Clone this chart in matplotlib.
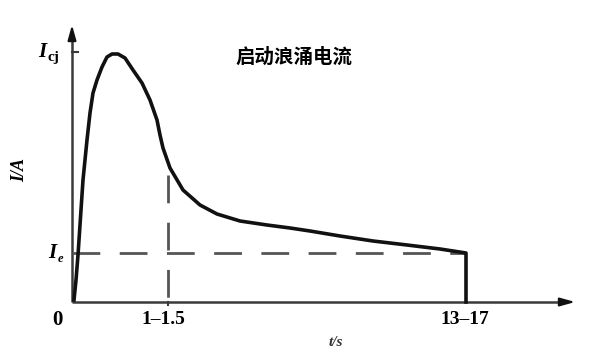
import numpy as np
import matplotlib
matplotlib.use("Agg")
import matplotlib.pyplot as plt

# 启动浪涌电流曲线 (坐标单位为示意值)
t_curve = [0.02, 0.04, 0.06, 0.08, 0.11, 0.15, 0.18, 0.21, 0.25, 0.30, 0.35,
           0.40, 0.46, 0.53, 0.61, 0.70, 0.78, 0.85, 0.88, 0.91, 0.98, 1.11,
           1.28, 1.45, 1.68, 1.95, 2.18, 2.38, 2.68, 3.01, 3.35, 3.68, 3.94, 3.94]
i_curve = [0.02, 0.22, 0.47, 0.77, 1.22, 1.62, 1.89, 2.09, 2.22, 2.35, 2.45,
           2.48, 2.48, 2.44, 2.32, 2.19, 2.02, 1.82, 1.67, 1.54, 1.34, 1.12,
           0.97, 0.88, 0.81, 0.77, 0.74, 0.71, 0.66, 0.61, 0.57, 0.53, 0.49, 0.0]

i_cj = 2.5          # 浪涌峰值
i_e = 0.49          # 额定电流
t_knee = 0.96       # 1-1.5 s
t_end = 3.94        # 13-17 s
x_tick_labels = ["1\u20131.5", "13\u201317"]
title = "启动浪涌电流"

fig = plt.figure(figsize=(5.97, 3.63), dpi=100)
ax = fig.add_axes([0, 0, 1, 1])
ax.set_xlim(-0.72, 5.25)
ax.set_ylim(-0.61, 3.02)
ax.axis("off")

axis_col = "#3a3a3a"
# 坐标轴
ax.plot([0, 4.96], [0, 0], color=axis_col, lw=1.8, solid_capstyle="butt")
ax.plot([0, 0], [0, 2.70], color=axis_col, lw=1.8, solid_capstyle="butt")
ax.annotate("", xy=(5.06, 0), xytext=(4.90, 0),
            arrowprops=dict(arrowstyle="-|>,head_length=0.9,head_width=0.25",
                            color="#111111", lw=1.5))
ax.annotate("", xy=(0, 2.80), xytext=(0, 2.64),
            arrowprops=dict(arrowstyle="-|>,head_length=0.9,head_width=0.25",
                            color="#111111", lw=1.5))
# 刻度
ax.plot([0, 0.06], [i_cj, i_cj], color=axis_col, lw=1.5)
ax.plot([t_knee, t_knee], [0, -0.03], color=axis_col, lw=1.5)

# 虚线
dash_col = "#555555"
ax.plot([0, t_end], [i_e, i_e], color=dash_col, lw=2.0, dashes=(10, 7))
ax.plot([t_knee, t_knee], [1.27, 0], color=dash_col, lw=2.0, dashes=(10, 7))

# 曲线
ax.plot(t_curve, i_curve, color="#111111", lw=2.6, solid_joinstyle="round")

serif = "Liberation Serif"
ax.text(-0.30, i_cj, "I", fontfamily=serif, fontsize=15, fontweight="bold",
        fontstyle="italic", ha="center", va="center")
ax.text(-0.24, i_cj - 0.06, "cj", fontfamily=serif, fontsize=11,
        fontweight="bold", ha="left", va="center")
ax.text(-0.20, i_e, "I", fontfamily=serif, fontsize=15, fontweight="bold",
        fontstyle="italic", ha="center", va="center")
ax.text(-0.14, i_e - 0.06, "e", fontfamily=serif, fontsize=9,
        fontweight="bold", fontstyle="italic", ha="left", va="center")

ax.text(-0.15, -0.18, "0", fontfamily=serif, fontsize=15, fontweight="bold",
        ha="center", va="center")
ax.text(t_knee - 0.05, -0.18, x_tick_labels[0], fontfamily=serif, fontsize=14,
        fontweight="bold", ha="center", va="center")
ax.text(t_end - 0.01, -0.17, x_tick_labels[1], fontfamily=serif, fontsize=14,
        fontweight="bold", ha="center", va="center")
ax.text(2.64, -0.40, "t/s", fontfamily=serif, fontsize=11, fontweight="bold",
        fontstyle="italic", ha="center", va="center", color="#333333")
ax.text(-0.52, 1.32, "I/A", fontfamily=serif, fontsize=13, fontweight="bold",
        fontstyle="italic", ha="center", va="center", rotation=90)

ax.text(2.22, 2.45, title, fontfamily=["Noto Sans CJK SC", "DejaVu Sans"],
        fontsize=14, fontweight="bold", ha="center", va="center")

fig.savefig("out.png", dpi=100)
